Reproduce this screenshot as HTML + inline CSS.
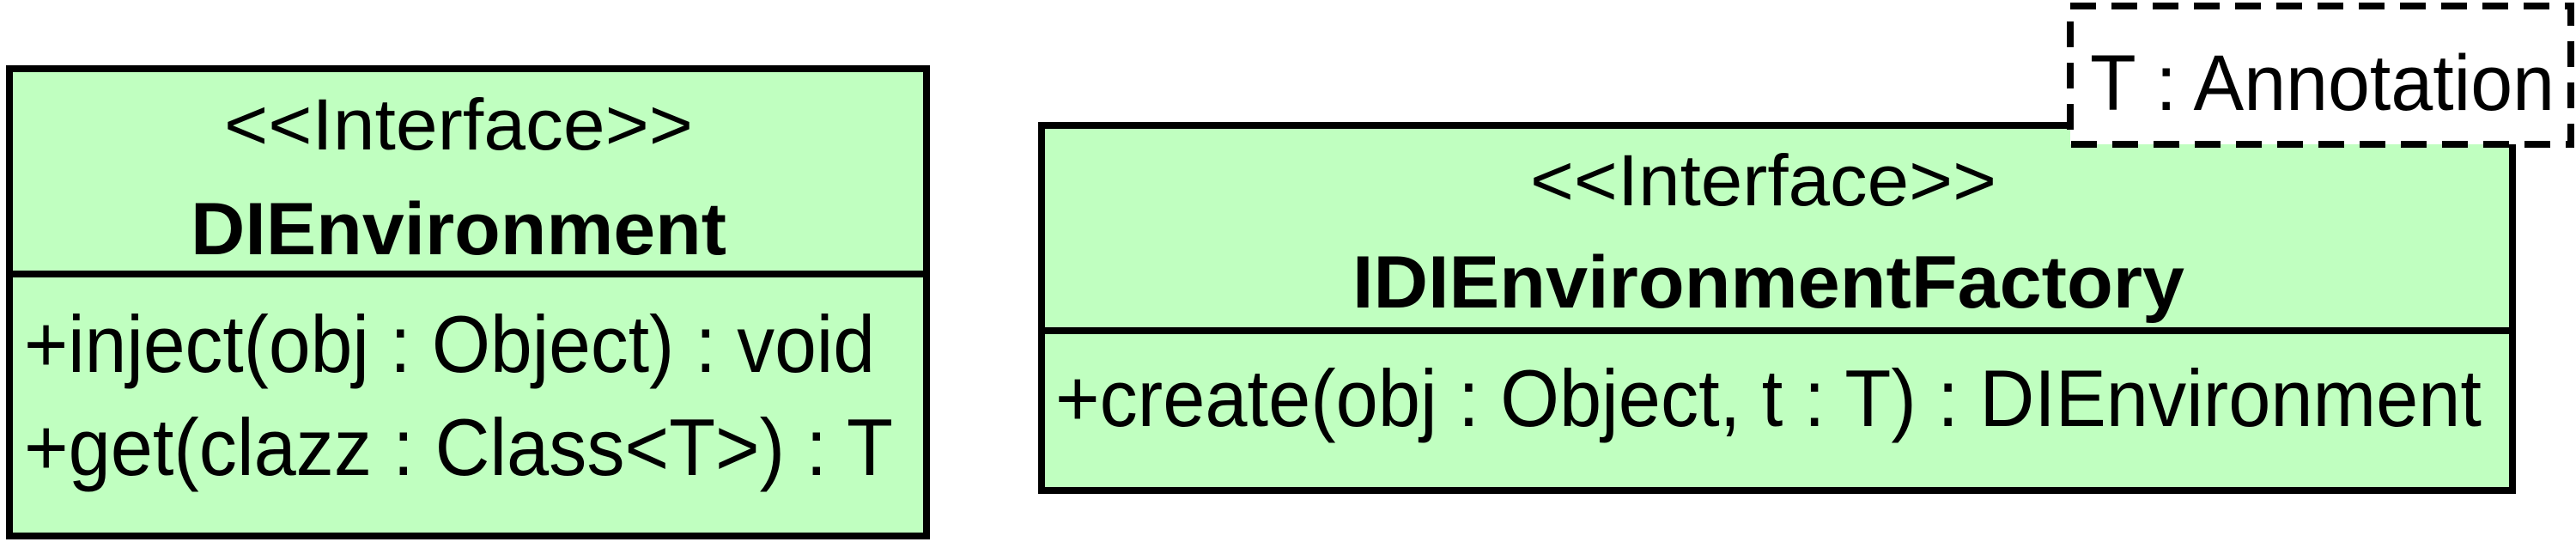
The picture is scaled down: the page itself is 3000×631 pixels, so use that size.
<!DOCTYPE html>
<html><head><style>html,body{margin:0;padding:0;background:#fff;}svg{display:block}</style></head>
<body>
<svg width="3000" height="631" viewBox="0 0 3000 631" xmlns="http://www.w3.org/2000/svg" font-family="Liberation Sans, Arial, sans-serif">
<rect x="11" y="80" width="1068" height="544" fill="#c0ffc0" stroke="#000" stroke-width="8"/>
<line x1="11" y1="319" x2="1079" y2="319" stroke="#000" stroke-width="8"/>
<text x="261" y="174" font-size="84" textLength="546" lengthAdjust="spacingAndGlyphs">&lt;&lt;Interface&gt;&gt;</text>
<text x="222" y="296" font-size="86" font-weight="bold" textLength="624" lengthAdjust="spacingAndGlyphs">DIEnvironment</text>
<text x="28" y="433" font-size="94" textLength="991" lengthAdjust="spacingAndGlyphs">+inject(obj : Object) : void</text>
<text x="28" y="553" font-size="94" textLength="1012" lengthAdjust="spacingAndGlyphs">+get(clazz : Class&lt;T&gt;) : T</text>

<rect x="1213" y="146" width="1713" height="425" fill="#c0ffc0" stroke="#000" stroke-width="8"/>
<line x1="1213" y1="385" x2="2926" y2="385" stroke="#000" stroke-width="8"/>
<text x="1782" y="239" font-size="84" textLength="543" lengthAdjust="spacingAndGlyphs">&lt;&lt;Interface&gt;&gt;</text>
<text x="1575" y="358" font-size="86" font-weight="bold" textLength="969" lengthAdjust="spacingAndGlyphs">IDIEnvironmentFactory</text>
<text x="1229" y="496" font-size="94" textLength="1661" lengthAdjust="spacingAndGlyphs">+create(obj : Object, t : T) : DIEnvironment</text>

<rect x="2411" y="7" width="583" height="161" fill="#fff" stroke="#000" stroke-width="8" stroke-dasharray="30 18"/>
<text x="2434" y="128" font-size="92" textLength="541" lengthAdjust="spacingAndGlyphs">T : Annotation</text>
</svg>
</body></html>
